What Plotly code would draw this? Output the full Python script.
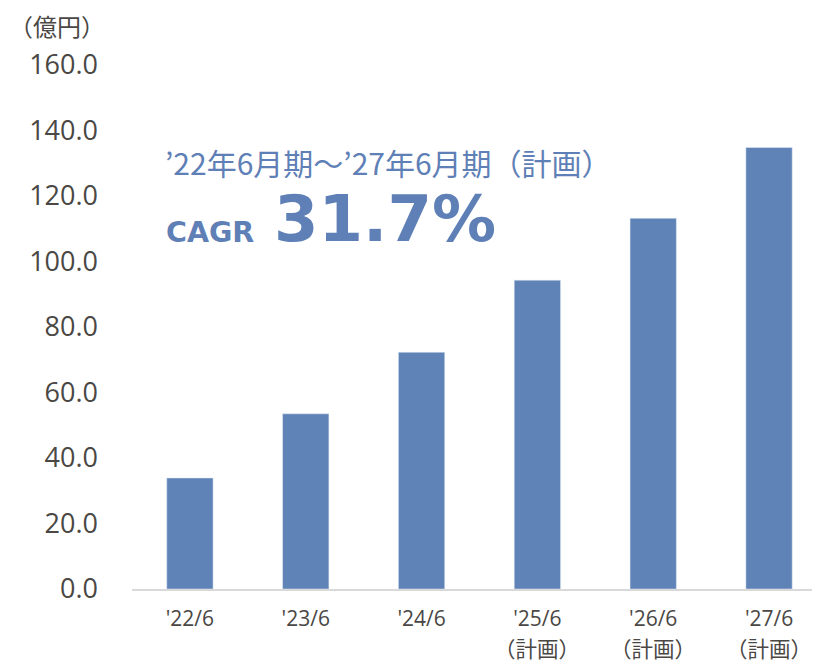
import plotly.graph_objects as go

# data
periods = ["'22/6", "'23/6", "'24/6", "'25/6", "'26/6", "'27/6"]
sales = [33.9, 53.5, 72.3, 94.3, 113.2, 134.8]
plan_periods = ["'25/6", "'26/6", "'27/6"]
y_ticks = [0, 20, 40, 60, 80, 100, 120, 140, 160]

BAR = "#6083b7"
TEXT = "#4a4744"
ACCENT = "#5f80b6"
JP = "Noto Sans CJK JP"
SANS = "Open Sans, Noto Sans CJK JP"

# plot area in window pixels; the page body adds an 8px margin
OFF = 8
L, R, T, B = 132, 820, 64.5, 589.5
W, H = 820 - OFF, 664 - OFF


def px(x):
    return (x - L) / (R - L)


def py(y):
    return (B - y) / (B - T)


fig = go.Figure(go.Bar(x=periods, y=sales, marker_color=BAR, width=0.40))

fig.update_layout(
    width=W, height=H,
    margin=dict(l=L - OFF, r=W - (R - OFF), t=T - OFF, b=H - (B - OFF)),
    plot_bgcolor="white", paper_bgcolor="white",
    showlegend=False,
    font=dict(family=SANS, color=TEXT),
)

fig.update_xaxes(
    type="category", range=[-0.5, 5.44],
    showgrid=False, zeroline=False,
    showline=True, linecolor="#d9d9d9", linewidth=1.5,
    tickfont=dict(size=21, family=SANS, color=TEXT),
    ticklabelstandoff=10,
)
fig.update_yaxes(
    range=[0, 160], tickvals=y_ticks, tickformat=".1f",
    showgrid=False, zeroline=False, showline=False,
    tickfont=dict(size=27, family=SANS, color=TEXT),
    ticklabelstandoff=33,
)

# unit label
fig.add_annotation(text="（億円）", xref="paper", yref="paper",
                   x=px(7), y=py(25), xanchor="left", yanchor="middle",
                   showarrow=False, font=dict(size=24, family=JP, color=TEXT))

# second line of plan labels
for p in plan_periods:
    fig.add_annotation(text="（計画）", xref="x", yref="paper",
                       x=p, y=py(648), xanchor="center", yanchor="middle",
                       showarrow=False, font=dict(size=21.5, family=JP, color=TEXT))

# CAGR callout
fig.add_annotation(text="’22年6月期～’27年6月期（計画）", xref="paper", yref="paper",
                   x=px(163), y=py(162), xanchor="left", yanchor="middle",
                   showarrow=False, font=dict(size=30, family=JP, color=ACCENT))
fig.add_annotation(text="<b>CAGR</b>", xref="paper", yref="paper",
                   x=px(164), y=py(232), xanchor="left", yanchor="middle",
                   showarrow=False, font=dict(size=28.5, family="DejaVu Sans", color=ACCENT))
fig.add_annotation(text="<b>31.7%</b>", xref="paper", yref="paper",
                   x=px(272), y=py(219), xanchor="left", yanchor="middle",
                   showarrow=False, font=dict(size=64, family="DejaVu Sans", color=ACCENT))

fig.write_html("out.html")
